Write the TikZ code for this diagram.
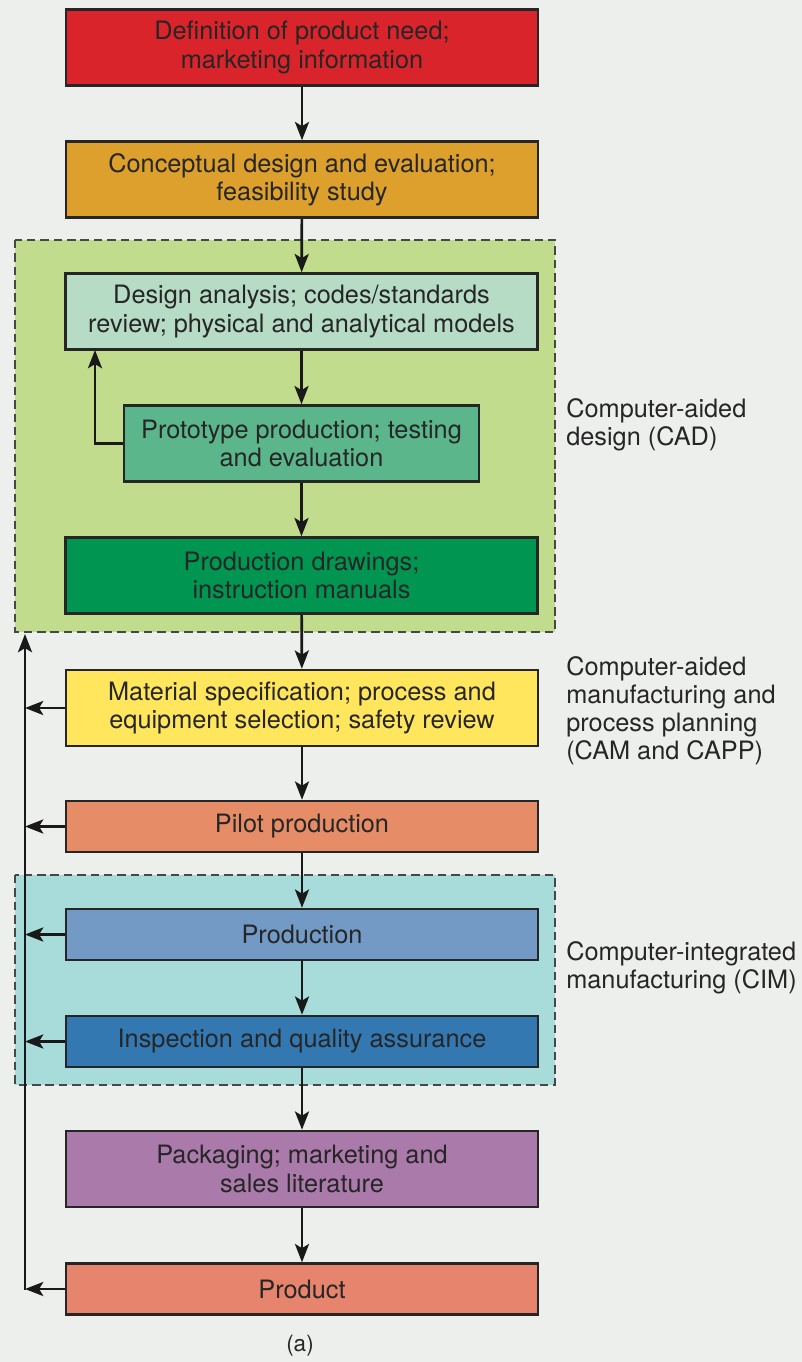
\documentclass[tikz,border=0pt]{standalone}
\usepackage{fontspec}
\setmainfont{TeX Gyre Heros}
\usetikzlibrary{arrows.meta}

\definecolor{pagebg}{HTML}{EDEFEC}
\definecolor{needred}{HTML}{D9242B}
\definecolor{conceptorange}{HTML}{DDA02C}
\definecolor{cadgreen}{HTML}{C0DC8C}
\definecolor{analysisgreen}{HTML}{B6DCC6}
\definecolor{protogreen}{HTML}{5CB68C}
\definecolor{drawgreen}{HTML}{009652}
\definecolor{matyellow}{HTML}{FFE65C}
\definecolor{pilotorange}{HTML}{E68C66}
\definecolor{cimcyan}{HTML}{A8DCDA}
\definecolor{prodblue}{HTML}{729AC4}
\definecolor{inspblue}{HTML}{3478B2}
\definecolor{packpurple}{HTML}{AA7AAA}
\definecolor{productsalmon}{HTML}{E6846E}

\tikzset{
	stepbox/.style={draw=black!85, line width=1.8pt, minimum width=11.8cm, minimum height=1.9cm,
		align=center, inner sep=0pt, text=black!85, font=\fontsize{18}{20}\selectfont},
	thinbox/.style={stepbox, minimum height=1.275cm},
	flow/.style={-{Stealth[length=13pt,width=10pt,inset=3pt]}, line width=1.9pt, draw=black!90},
	region/.style={draw=black!72, dash pattern=on 6pt off 3.5pt, line width=1.7pt},
	sidelabel/.style={anchor=west, align=left, inner sep=0pt, text=black!85, font=\fontsize{18}{20}\selectfont}
}

\begin{document}
\begin{tikzpicture}[x=0.025cm, y=-0.025cm]
	\useasboundingbox (0,0) rectangle (802,1362);
	\fill[pagebg] (0,0) rectangle (802,1362);
	
	% dashed regions
	\draw[region, fill=cadgreen] (15,240) rectangle (555,632);
	\draw[region, fill=cimcyan] (15,875) rectangle (555,1085);
	
	% steps
	\node[stepbox, fill=needred] (need) at (302,47.5) {Definition of product need;\\marketing information};
	\node[stepbox, fill=conceptorange] (concept) at (302,179.5) {Conceptual design and evaluation;\\feasibility study};
	\node[stepbox, fill=analysisgreen] (analysis) at (301.5,311.5) {Design analysis; codes/standards\\review; physical and analytical models};
	\node[stepbox, fill=protogreen, minimum width=8.875cm] (proto) at (301.5,443.5) {Prototype production; testing\\and evaluation};
	\node[stepbox, fill=drawgreen] (drawings) at (301.5,575.5) {Production drawings;\\instruction manuals};
	\node[stepbox, fill=matyellow] (material) at (302,708) {Material specification; process and\\equipment selection; safety review};
	\node[thinbox, fill=pilotorange] (pilot) at (302,826.5) {Pilot production};
	\node[thinbox, fill=prodblue] (production) at (302,934.5) {Production};
	\node[thinbox, fill=inspblue] (inspection) at (302,1041.5) {Inspection and quality assurance};
	\node[stepbox, fill=packpurple] (packaging) at (302,1169) {Packaging; marketing and\\sales literature};
	\node[thinbox, fill=productsalmon] (product) at (302,1289) {Product};
	
	% side labels
	\node[sidelabel] (cadlabel) at (566,425) {Computer-aided\\design (CAD)};
	\node[sidelabel] (camlabel) at (566,711) {Computer-aided\\manufacturing and\\process planning\\(CAM and CAPP)};
	\node[sidelabel] (cimlabel) at (566,968) {Computer-integrated\\manufacturing (CIM)};
	\node[text=black!85, font=\fontsize{16}{18}\selectfont] (caption) at (300,1346) {(a)};
	
	% main flow
	\draw[flow] (need) -- (concept);
	\draw[flow] (concept) -- (analysis);
	\draw[flow] (analysis) -- (proto);
	\draw[flow] (proto) -- (drawings);
	\draw[flow] (drawings) -- (material);
	\draw[flow] (material) -- (pilot);
	\draw[flow] (pilot) -- (production);
	\draw[flow] (production) -- (inspection);
	\draw[flow] (inspection) -- (packaging);
	\draw[flow] (packaging) -- (product);
	
	% feedback
	\coordinate (cadback) at (95,350);
	\draw[flow] (proto.west) -| (cadback);
	
	\coordinate (backtop) at (25,634);
	\coordinate (backbot) at (25,1289);
	\draw[flow, line cap=rect] (backbot) -- (backtop);
	\draw[flow] (product.west) -- (backbot);
	\draw[flow] (inspection.west) -- (inspection.west -| backtop);
	\draw[flow] (production.west) -- (production.west -| backtop);
	\draw[flow] (pilot.west) -- (pilot.west -| backtop);
	\draw[flow] (material.west) -- (material.west -| backtop);
	
\end{tikzpicture}
\end{document}
